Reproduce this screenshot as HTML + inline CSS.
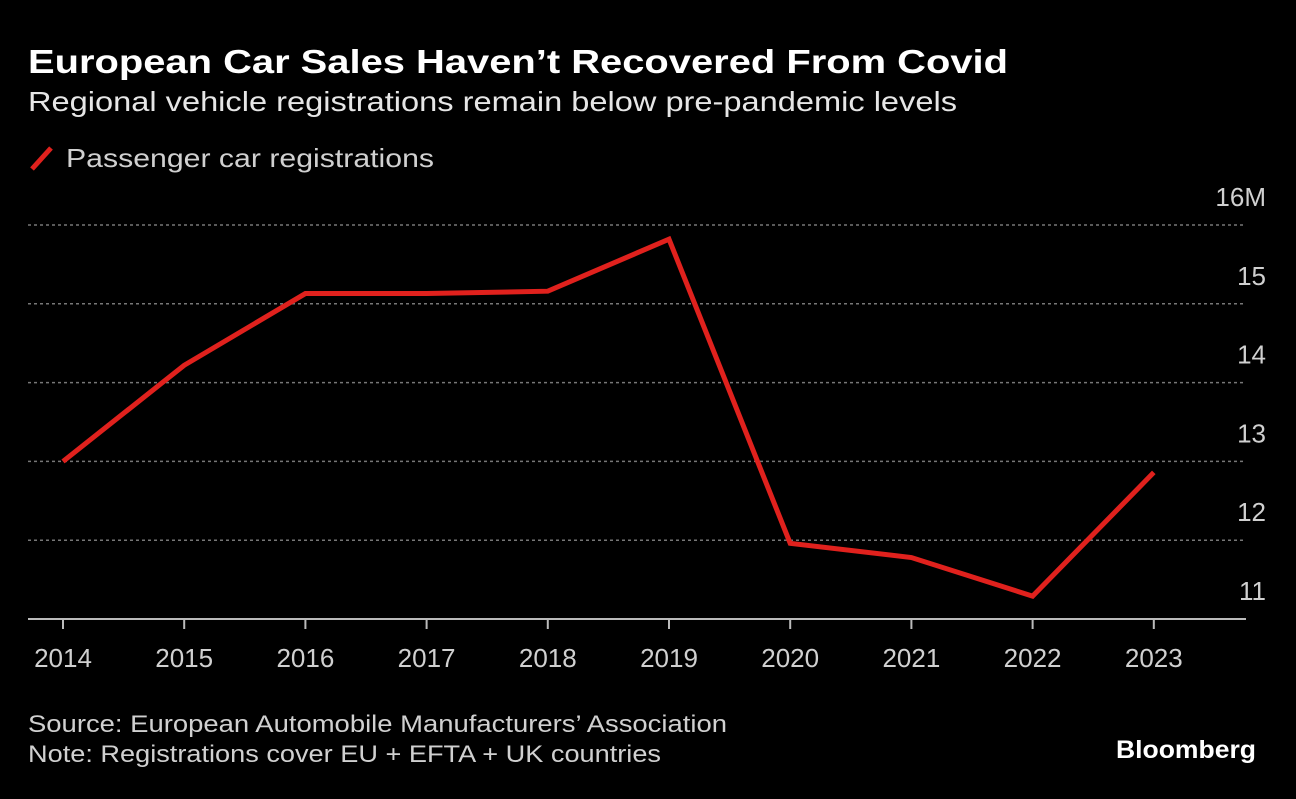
<!DOCTYPE html>
<html><head><meta charset="utf-8"><style>
body{margin:0;background:#000;width:1296px;height:794px;overflow:hidden;font-family:"Liberation Sans",sans-serif;color:#fff}
</style></head><body>
<svg width="1296" height="794">
<text x="28" y="73" font-size="33" font-weight="bold" fill="#fff" textLength="980" lengthAdjust="spacingAndGlyphs">European Car Sales Haven’t Recovered From Covid</text>
<text x="28" y="111" font-size="28" fill="#e6e6e6" textLength="929" lengthAdjust="spacingAndGlyphs">Regional vehicle registrations remain below pre-pandemic levels</text>
<line x1="32" y1="169" x2="51" y2="148" stroke="#e0211d" stroke-width="5"/>
<text x="66" y="167" font-size="26" fill="#d0d0d0" textLength="368" lengthAdjust="spacingAndGlyphs">Passenger car registrations</text>
<g id="grid"></g>
<g id="xaxis"></g>
<path id="line" fill="none" stroke="#e0211d" stroke-width="5" stroke-linejoin="miter"/>
<text x="28" y="732" font-size="24" fill="#d0d0d0" textLength="699" lengthAdjust="spacingAndGlyphs">Source: European Automobile Manufacturers’ Association</text>
<text x="28" y="762" font-size="24" fill="#d0d0d0" textLength="633" lengthAdjust="spacingAndGlyphs">Note: Registrations cover EU + EFTA + UK countries</text>
<text x="1256" y="758" font-size="25" font-weight="bold" fill="#fff" text-anchor="end" textLength="140" lengthAdjust="spacingAndGlyphs">Bloomberg</text>
</svg>
<script>
const years=[2014,2015,2016,2017,2018,2019,2020,2021,2022,2023];
const values=[13.0,14.22,15.13,15.13,15.16,15.82,11.96,11.78,11.29,12.86];
const yTicks=[11,12,13,14,15,16];
const yTickLabels=["11","12","13","14","15","16M"];
const ns="http://www.w3.org/2000/svg";
const x=i=>63+i*121.2;
const y=v=>619-(v-11)*78.8;
const grid=document.getElementById('grid');
yTicks.forEach((t,i)=>{
 if(t>11){const l=document.createElementNS(ns,'line');
 l.setAttribute('x1',28);l.setAttribute('x2',1246);l.setAttribute('y1',y(t));l.setAttribute('y2',y(t));
 l.setAttribute('stroke','#777');l.setAttribute('stroke-dasharray','3,3');l.setAttribute('stroke-width','1.5');
 
 
 grid.appendChild(l);}
 const tx=document.createElementNS(ns,'text');
 tx.setAttribute('x',1266);tx.setAttribute('y',y(t)-19);tx.setAttribute('text-anchor','end');
 tx.setAttribute('font-size','26');tx.setAttribute('fill','#d0d0d0');tx.textContent=yTickLabels[i];
 
 
 grid.appendChild(tx);
});
const xa=document.getElementById('xaxis');
const ax=document.createElementNS(ns,'line');
ax.setAttribute('x1',28);ax.setAttribute('x2',1246);ax.setAttribute('y1',619);ax.setAttribute('y2',619);
ax.setAttribute('stroke','#bbb');ax.setAttribute('stroke-width','2');


xa.appendChild(ax);
years.forEach((yr,i)=>{
 const t=document.createElementNS(ns,'line');
 t.setAttribute('x1',x(i));t.setAttribute('x2',x(i));t.setAttribute('y1',619);t.setAttribute('y2',629);
 t.setAttribute('stroke','#bbb');t.setAttribute('stroke-width','2');
 
 
 xa.appendChild(t);
 const tx=document.createElementNS(ns,'text');
 tx.setAttribute('x',x(i));tx.setAttribute('y',667);tx.setAttribute('text-anchor','middle');
 tx.setAttribute('font-size','26');tx.setAttribute('fill','#d0d0d0');tx.textContent=yr;
 
 
 xa.appendChild(tx);
});
document.getElementById('line').setAttribute('d',values.map((v,i)=>(i?'L':'M')+x(i)+','+y(v)).join(' '));
</script>
</body></html>
